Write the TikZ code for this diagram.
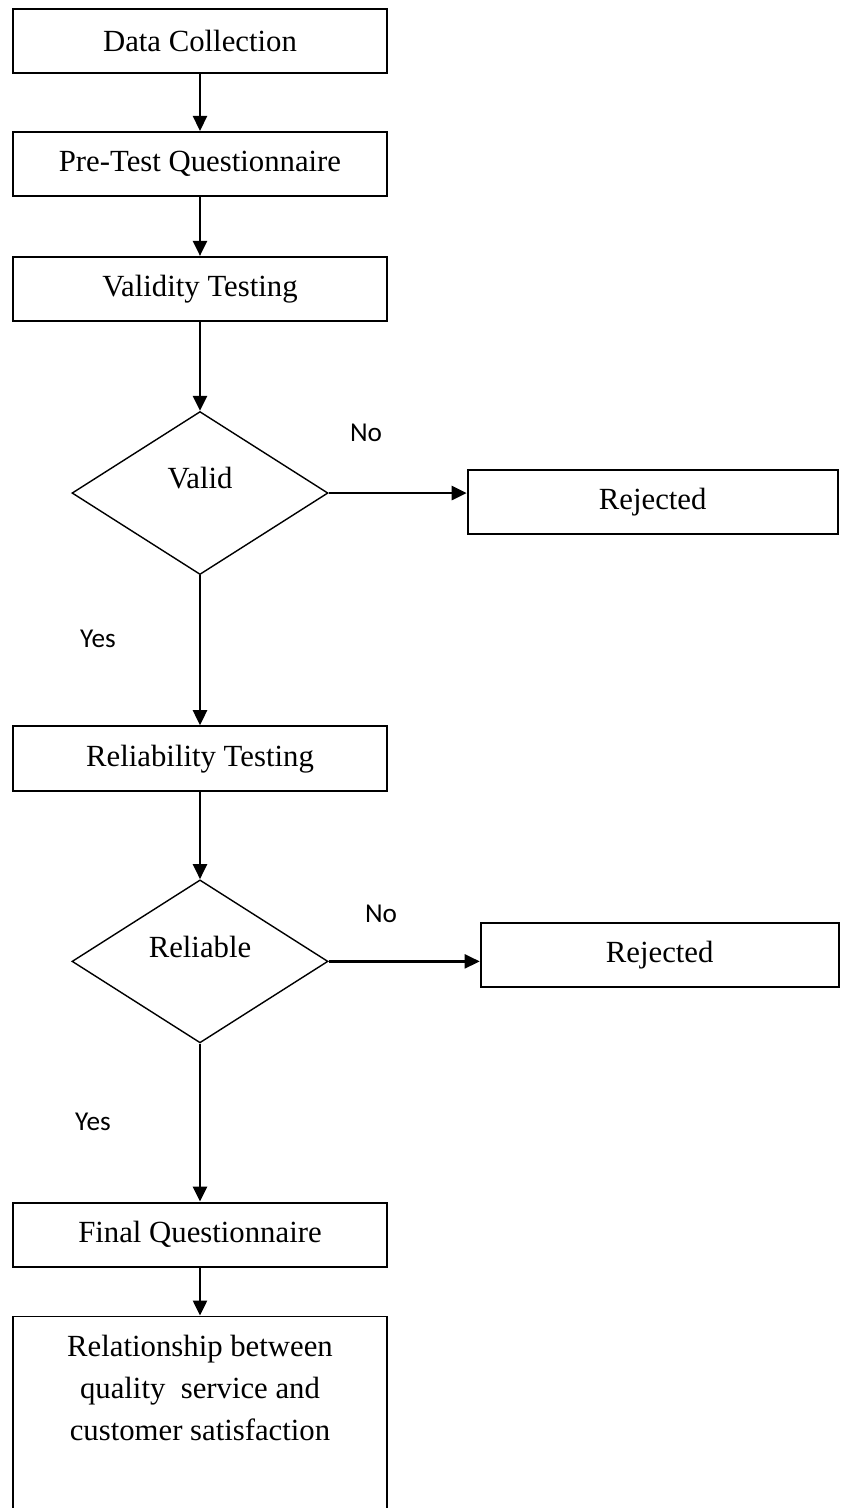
\documentclass[tikz,border=0pt]{standalone}
\usepackage{fontspec}
\setmainfont{Liberation Serif}
\newfontfamily\labelfont{Carlito}
\usetikzlibrary{positioning,shapes.geometric,arrows.meta}

\begin{document}
\begin{tikzpicture}[
                    stepbox/.style={rectangle, draw, line width=1.1pt, minimum width=7.48cm, minimum height=1.28cm, font=\fontsize{17.5}{21}\selectfont},
                    decision/.style={diamond, draw, line width=0.8pt, minimum width=5.12cm, minimum height=3.26cm, inner sep=0pt, text depth=0.6cm, font=\fontsize{17.5}{21}\selectfont},
                    answer/.style={font=\labelfont\fontsize{15.5}{18}\selectfont},
                    flow/.style={line width=1.4pt, -{Triangle[length=3mm, width=2.8mm]}},
                ]
                    \useasboundingbox (-4.0,0.82) rectangle (12.82,-29.34);
                    \clip (-4.0,0.82) rectangle (12.82,-29.34);

                    %Nodes
                    \node[stepbox](collect){Data Collection};
                    \node[stepbox](pretest)[below=1.14cm of collect] {Pre-Test Questionnaire};
                    \node[stepbox](validity)[below=1.18cm of pretest] {Validity Testing};
                    \node[decision](valid)[below=1.78cm of validity] {Valid};
                    \node[stepbox, minimum width=7.4cm](reject1)[right=2.76cm of valid, yshift=-0.18cm] {Rejected};
                    \node[stepbox, minimum height=1.3cm](reliab)[below=3.0cm of valid] {Reliability Testing};
                    \node[decision](reliable)[below=1.74cm of reliab] {Reliable};
                    \node[stepbox, minimum width=7.16cm](reject2)[right=3.02cm of reliable, yshift=0.12cm] {Rejected};
                    \node[stepbox](finalq)[below=3.16cm of reliable] {Final Questionnaire};
                    \node[stepbox, minimum height=4.8cm](relate)[below=0.96cm of finalq] {};
                    \node[inner sep=0pt, align=center, font=\fontsize{17.5}{23.9}\selectfont](relatetext)[below=0.38cm of relate.north] {Relationship between\\quality\ \ service and\\customer satisfaction};

                    %Labels
                    \node[answer](no1) at ([shift={(3.32,1.2)}]valid.center) {No};
                    \node[answer](yes1) at ([shift={(-2.04,-2.92)}]valid.center) {Yes};
                    \node[answer](no2) at ([shift={(3.62,0.96)}]reliable.center) {No};
                    \node[answer](yes2) at ([shift={(-2.14,-3.2)}]reliable.center) {Yes};

                    %Lines
                    \draw[flow](collect) -- (pretest);
                    \draw[flow](pretest) -- (validity);
                    \draw[flow](validity) -- (valid);
                    \draw[flow](valid.east) -- (valid.east -| reject1.west);
                    \draw[flow](valid) -- (reliab);
                    \draw[flow](reliab) -- (reliable);
                    \draw[flow](reliable.east) -- (reliable.east -| reject2.west);
                    \draw[flow](reliable) -- (finalq);
                    \draw[flow](finalq) -- (relate);
                \end{tikzpicture}
\end{document}
